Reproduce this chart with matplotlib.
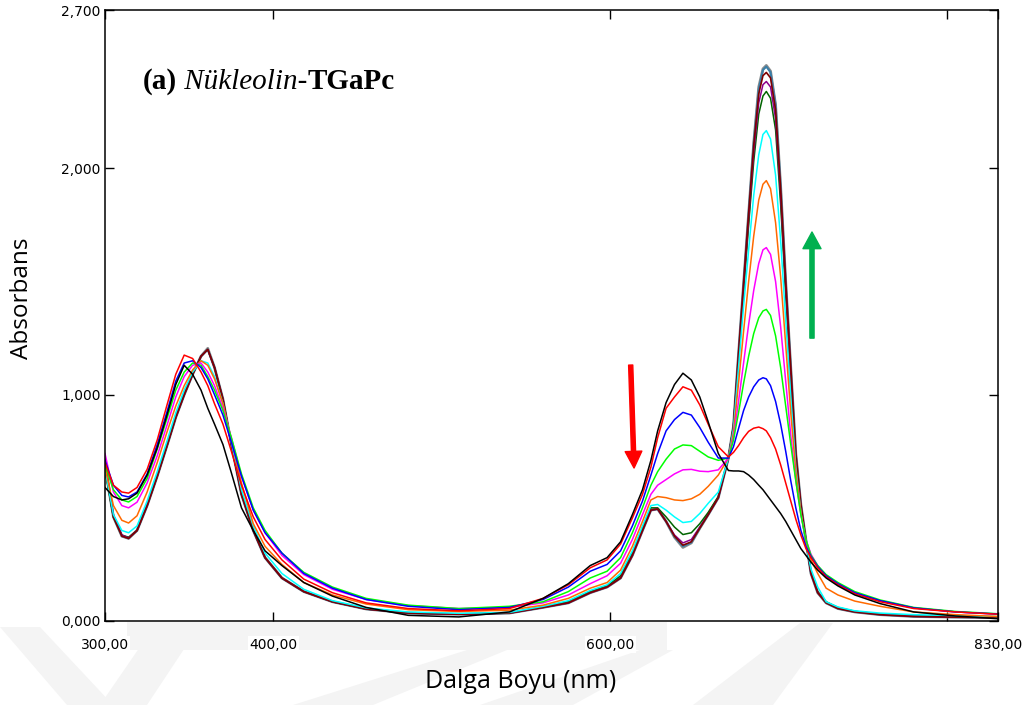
import matplotlib
matplotlib.use("Agg")
import matplotlib.pyplot as plt
from matplotlib.patches import Polygon

# ---------------- data ----------------
wavelength = [300, 305, 310, 314, 319, 325, 331, 337, 342, 347, 352, 357, 361, 365, 370, 375, 381, 388, 395, 405, 418, 435, 455, 480, 510, 540,
              560, 575, 588, 598, 606, 613, 619, 624, 628, 633, 638, 643, 648, 653, 658, 664, 670,
              673, 676, 679, 682, 685, 688, 690.5, 692.5, 695, 698, 701, 704, 707, 710, 713, 716, 719, 723, 728, 735, 745, 760, 780, 805, 830]

abs_black = [0.59, 0.55, 0.535, 0.54, 0.565, 0.645, 0.765, 0.915, 1.045, 1.13, 1.09, 1.02, 0.94, 0.87, 0.78, 0.655, 0.50, 0.40, 0.31, 0.245, 0.17, 0.11, 0.06, 0.025, 0.018, 0.04,
             0.10, 0.165, 0.245, 0.28, 0.35, 0.47, 0.58, 0.71, 0.84, 0.965, 1.045, 1.095, 1.065, 0.99, 0.88, 0.74, 0.665,
             0.663, 0.663, 0.66, 0.645, 0.625, 0.60, 0.58, 0.56, 0.535, 0.505, 0.475, 0.44, 0.40, 0.36, 0.32, 0.29, 0.26, 0.225, 0.19, 0.155, 0.115, 0.077, 0.04, 0.022, 0.01]

abs_red = [0.70, 0.60, 0.57, 0.565, 0.59, 0.67, 0.80, 0.96, 1.09, 1.175, 1.16, 1.10, 1.04, 0.96, 0.87, 0.75, 0.60, 0.46, 0.36, 0.27, 0.185, 0.125, 0.08, 0.055, 0.045, 0.055,
           0.10, 0.16, 0.235, 0.27, 0.34, 0.455, 0.56, 0.68, 0.81, 0.94, 0.99, 1.035, 1.02, 0.955, 0.87, 0.77, 0.725,
           0.745, 0.775, 0.81, 0.838, 0.852, 0.857, 0.85, 0.84, 0.81, 0.76, 0.69, 0.61, 0.53, 0.45, 0.38, 0.32, 0.28, 0.235, 0.195, 0.16, 0.12, 0.085, 0.055, 0.04, 0.03]

abs_blue = [0.71, 0.60, 0.555, 0.548, 0.57, 0.65, 0.78, 0.93, 1.06, 1.14, 1.15, 1.12, 1.07, 1.00, 0.91, 0.79, 0.64, 0.49, 0.39, 0.30, 0.21, 0.145, 0.095, 0.065, 0.05, 0.06,
            0.095, 0.15, 0.22, 0.25, 0.31, 0.42, 0.53, 0.645, 0.74, 0.84, 0.89, 0.922, 0.91, 0.855, 0.79, 0.72, 0.72,
            0.77, 0.85, 0.93, 0.99, 1.035, 1.065, 1.075, 1.07, 1.04, 0.97, 0.87, 0.75, 0.62, 0.50, 0.40, 0.33, 0.285, 0.24, 0.20, 0.165, 0.125, 0.09, 0.058, 0.04, 0.031]

abs_green = [0.69, 0.58, 0.535, 0.526, 0.55, 0.63, 0.76, 0.90, 1.02, 1.10, 1.14, 1.13, 1.08, 1.02, 0.93, 0.81, 0.65, 0.50, 0.40, 0.30, 0.215, 0.15, 0.10, 0.07, 0.055, 0.065,
             0.085, 0.13, 0.19, 0.22, 0.28, 0.39, 0.50, 0.60, 0.66, 0.715, 0.76, 0.778, 0.775, 0.75, 0.725, 0.71, 0.72,
             0.80, 0.92, 1.05, 1.17, 1.27, 1.34, 1.37, 1.377, 1.35, 1.26, 1.12, 0.95, 0.78, 0.62, 0.47, 0.36, 0.29, 0.245, 0.205, 0.17, 0.13, 0.093, 0.06, 0.042, 0.032]

abs_magenta = [0.74, 0.57, 0.51, 0.50, 0.525, 0.61, 0.73, 0.87, 0.99, 1.08, 1.13, 1.14, 1.10, 1.04, 0.94, 0.81, 0.64, 0.49, 0.39, 0.29, 0.205, 0.14, 0.095, 0.068, 0.055, 0.06,
               0.08, 0.115, 0.165, 0.20, 0.255, 0.36, 0.47, 0.56, 0.60, 0.625, 0.65, 0.668, 0.67, 0.662, 0.66, 0.668, 0.72,
               0.81, 0.97, 1.14, 1.31, 1.46, 1.58, 1.64, 1.65, 1.62, 1.50, 1.30, 1.06, 0.82, 0.62, 0.47, 0.36, 0.295, 0.245, 0.20, 0.165, 0.125, 0.09, 0.058, 0.04, 0.03]

abs_orange = [0.68, 0.51, 0.445, 0.433, 0.465, 0.57, 0.70, 0.84, 0.95, 1.04, 1.11, 1.15, 1.13, 1.07, 0.96, 0.80, 0.61, 0.43, 0.33, 0.25, 0.17, 0.115, 0.075, 0.05, 0.042, 0.048,
              0.07, 0.10, 0.145, 0.17, 0.225, 0.33, 0.44, 0.535, 0.55, 0.545, 0.535, 0.532, 0.54, 0.56, 0.595, 0.645, 0.72,
              0.83, 1.05, 1.28, 1.50, 1.70, 1.86, 1.93, 1.946, 1.91, 1.76, 1.52, 1.22, 0.92, 0.66, 0.48, 0.35, 0.27, 0.21, 0.145, 0.115, 0.088, 0.065, 0.04, 0.028, 0.02]

abs_cyan = [0.67, 0.47, 0.40, 0.39, 0.42, 0.53, 0.66, 0.80, 0.92, 1.02, 1.10, 1.15, 1.14, 1.08, 0.96, 0.79, 0.58, 0.42, 0.30, 0.21, 0.14, 0.09, 0.058, 0.04, 0.034, 0.038,
            0.065, 0.09, 0.135, 0.16, 0.21, 0.31, 0.42, 0.51, 0.515, 0.49, 0.46, 0.435, 0.44, 0.475, 0.52, 0.57, 0.72,
            0.85, 1.12, 1.39, 1.64, 1.88, 2.06, 2.15, 2.167, 2.13, 1.97, 1.68, 1.33, 0.99, 0.68, 0.48, 0.34, 0.23, 0.15, 0.085, 0.062, 0.045, 0.035, 0.028, 0.024, 0.02]

abs_darkgreen = [0.67, 0.46, 0.38, 0.37, 0.40, 0.51, 0.64, 0.78, 0.90, 1.00, 1.09, 1.17, 1.20, 1.12, 0.98, 0.78, 0.56, 0.40, 0.28, 0.19, 0.13, 0.085, 0.053, 0.035, 0.03, 0.035,
                 0.062, 0.085, 0.13, 0.155, 0.20, 0.30, 0.41, 0.50, 0.50, 0.46, 0.415, 0.382, 0.39, 0.43, 0.48, 0.55, 0.72,
                 0.86, 1.16, 1.46, 1.75, 2.03, 2.24, 2.32, 2.34, 2.31, 2.17, 1.84, 1.45, 1.08, 0.72, 0.50, 0.35, 0.215, 0.13, 0.085, 0.06, 0.043, 0.03, 0.022, 0.018, 0.016]

abs_purple = [0.72, 0.47, 0.38, 0.367, 0.40, 0.51, 0.64, 0.78, 0.90, 1.00, 1.09, 1.17, 1.20, 1.12, 0.98, 0.78, 0.56, 0.40, 0.28, 0.19, 0.13, 0.085, 0.053, 0.035, 0.03, 0.035,
              0.06, 0.08, 0.125, 0.15, 0.19, 0.29, 0.40, 0.49, 0.495, 0.44, 0.38, 0.345, 0.36, 0.415, 0.47, 0.545, 0.72,
              0.86, 1.17, 1.48, 1.78, 2.07, 2.29, 2.37, 2.384, 2.36, 2.22, 1.88, 1.48, 1.10, 0.73, 0.51, 0.355, 0.21, 0.127, 0.082, 0.057, 0.041, 0.029, 0.021, 0.017, 0.015]

abs_darkred = [0.68, 0.46, 0.375, 0.365, 0.40, 0.51, 0.64, 0.78, 0.90, 1.00, 1.09, 1.17, 1.20, 1.12, 0.98, 0.78, 0.56, 0.40, 0.28, 0.19, 0.13, 0.085, 0.053, 0.035, 0.03, 0.035,
               0.06, 0.08, 0.125, 0.15, 0.19, 0.29, 0.40, 0.49, 0.495, 0.44, 0.375, 0.335, 0.35, 0.41, 0.47, 0.545, 0.72,
               0.86, 1.18, 1.49, 1.80, 2.10, 2.33, 2.41, 2.424, 2.40, 2.26, 1.91, 1.50, 1.12, 0.74, 0.515, 0.358, 0.21, 0.125, 0.08, 0.055, 0.04, 0.028, 0.02, 0.017, 0.015]

abs_steel = [0.68, 0.46, 0.375, 0.365, 0.40, 0.51, 0.64, 0.78, 0.90, 1.00, 1.09, 1.17, 1.20, 1.12, 0.98, 0.78, 0.56, 0.40, 0.28, 0.19, 0.13, 0.085, 0.053, 0.035, 0.03, 0.035,
             0.06, 0.08, 0.125, 0.15, 0.19, 0.29, 0.40, 0.49, 0.495, 0.44, 0.372, 0.33, 0.347, 0.41, 0.47, 0.545, 0.72,
             0.86, 1.18, 1.49, 1.80, 2.11, 2.35, 2.435, 2.45, 2.425, 2.28, 1.92, 1.50, 1.12, 0.74, 0.515, 0.358, 0.21, 0.125, 0.08, 0.055, 0.04, 0.028, 0.02, 0.017, 0.015]

abs_gray = [0.68, 0.46, 0.375, 0.365, 0.40, 0.51, 0.64, 0.78, 0.90, 1.00, 1.09, 1.17, 1.205, 1.12, 0.98, 0.78, 0.56, 0.40, 0.28, 0.19, 0.13, 0.085, 0.053, 0.035, 0.03, 0.035,
            0.06, 0.08, 0.125, 0.15, 0.19, 0.29, 0.40, 0.49, 0.495, 0.44, 0.37, 0.325, 0.345, 0.41, 0.47, 0.545, 0.72,
            0.86, 1.18, 1.49, 1.80, 2.11, 2.36, 2.44, 2.455, 2.43, 2.28, 1.92, 1.50, 1.12, 0.74, 0.515, 0.358, 0.21, 0.125, 0.08, 0.055, 0.04, 0.028, 0.02, 0.017, 0.015]

x_tick_values = [300, 400, 600, 800, 830]
x_tick_labels = ["300,00", "400,00", "600,00", "", "830,00"]
y_tick_values = [0.0, 1.0, 2.0, 2.7]
y_tick_labels = ["0,000", "1,000", "2,000", "2,700"]

# (series, colour, linewidth) in drawing order
series = [
    (abs_gray, "#8c8c8c", 2.0),
    (abs_steel, "#3a7fa8", 1.5),
    (abs_darkgreen, "#006400", 1.1),
    (abs_purple, "#8b008b", 1.1),
    (abs_darkred, "#7f0000", 1.2),
    (abs_cyan, "#00ffff", 1.1),
    (abs_orange, "#ff6a00", 1.1),
    (abs_magenta, "#ff00ff", 1.1),
    (abs_green, "#00ff00", 1.1),
    (abs_blue, "#0000ff", 1.1),
    (abs_red, "#ff0000", 1.1),
    (abs_black, "#000000", 1.1),
]

W, H = 1032, 705
fig = plt.figure(figsize=(W / 100, H / 100), dpi=100)
fig.patch.set_facecolor("white")

# faint watermark bands (figure pixel coordinates, y measured from top)
bands = [
    [(0, 627), (40, 627), (113, 705), (67, 705)],
    [(100, 705), (147, 705), (200, 625), (155, 625)],
    [(127, 622), (667, 622), (667, 650), (127, 650)],
    [(293, 705), (373, 705), (507, 650), (467, 650)],
    [(480, 705), (573, 705), (673, 650), (640, 650)],
    [(693, 705), (773, 705), (833, 623), (800, 623)],
]
for b in bands:
    pts = [(x / W, 1 - y / H) for x, y in b]
    fig.patches.append(Polygon(pts, closed=True, transform=fig.transFigure,
                               facecolor="#f4f4f4", edgecolor="none", zorder=-10))

ax = fig.add_axes([105 / W, 84 / H, 893 / W, 611 / H])
ax.set_zorder(1)
ax.patch.set_alpha(0)

for ys, col, lw in series:
    ax.plot(wavelength, ys, color=col, lw=lw, solid_joinstyle="round")

ax.set_xlim(300, 830)
ax.set_ylim(0, 2.7)
ax.set_xticks(x_tick_values)
ax.set_xticklabels(x_tick_labels, family="DejaVu Sans", fontsize=10)
ax.set_yticks(y_tick_values)
ax.set_yticklabels(y_tick_labels, family="DejaVu Sans", fontsize=10)
ax.tick_params(axis="both", direction="in", length=6.5, width=1.0,
               top=True, right=True, labeltop=False, labelright=False)
ax.tick_params(axis="x", pad=12)
ax.tick_params(axis="y", pad=3)
for lab in ax.get_xticklabels() + ax.get_yticklabels():
    lab.set_bbox(dict(facecolor="white", edgecolor="none", pad=1))
for sp in ax.spines.values():
    sp.set_linewidth(1.1)
    sp.set_color("black")

# axis titles
fig.text(521 / W, 1 - 682 / H, "Dalga Boyu (nm)", family="Open Sans",
         fontsize=18, ha="center", va="center")
fig.text(22 / W, 1 - 298 / H, "Absorbans", family="Open Sans",
         fontsize=17.5, ha="center", va="center", rotation=90)

# panel title with mixed styles
serif = "Liberation Serif"
fs_title = 21
t1 = ax.text((143 - 105) / 893, (621 - 89) / 611, "(a)", transform=ax.transAxes,
             family=serif, fontweight="bold", fontsize=fs_title, va="baseline", ha="left")
t2 = ax.annotate(" Nükleolin-", xy=(1, 0), xycoords=t1, va="bottom", ha="left",
                 family=serif, fontstyle="italic", fontsize=fs_title)
t3 = ax.annotate("TGaPc", xy=(1, 0), xycoords=t2, va="bottom", ha="left",
                 family=serif, fontweight="bold", fontsize=fs_title)

# trend arrows
ax.annotate("", xy=(614.0, 0.676), xytext=(612.0, 1.131),
            arrowprops=dict(arrowstyle="simple,head_length=1.2,head_width=1.2,tail_width=0.3",
                            color="#ff0000", shrinkA=0, shrinkB=0, mutation_scale=10))
ax.annotate("", xy=(719.6, 1.719), xytext=(719.6, 1.25),
            arrowprops=dict(arrowstyle="simple,head_length=1.2,head_width=1.3,tail_width=0.3",
                            color="#00b050", shrinkA=0, shrinkB=0, mutation_scale=10))

fig.savefig("out.png", dpi=100, facecolor="white")
